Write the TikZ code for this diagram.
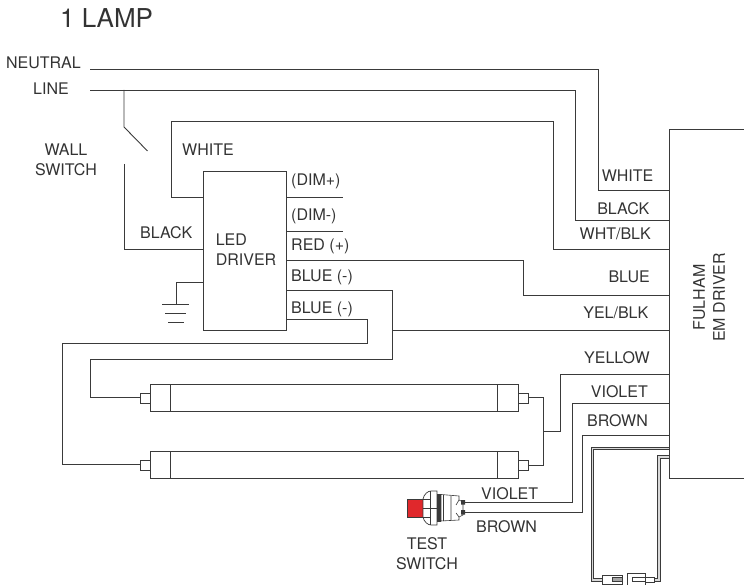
\documentclass[tikz,border=0pt]{standalone}
\usepackage{fontspec}
\setmainfont{TeX Gyre Heros}
\definecolor{wire}{HTML}{3A3A3A}
\definecolor{txt}{HTML}{333333}
\definecolor{lampred}{HTML}{E0282C}
\tikzset{
  wireline/.style={draw=wire,line width=0.9pt,line join=miter},
  twin/.style={draw=wire,line width=0.7pt,double=white!85!black,double distance=1.8pt},
  lbl/.style={inner sep=0pt,text=txt,font=\fontsize{16}{20}\selectfont,align=center},
  lbll/.style={lbl,anchor=base west},
  lblr/.style={lbl,anchor=base east},
  pt/.style={inner sep=0pt,minimum size=0pt,outer sep=0pt}
}
\begin{document}
\begin{tikzpicture}[x=1pt,y=-1pt]
\useasboundingbox (0,0) rectangle (744,585);
\node[lbl,anchor=base west,font=\fontsize{26}{30}\selectfont] (title) at (60,28) {1 LAMP};
% boxes
\node[wireline,pt,rectangle,minimum width=83pt,minimum height=159pt,anchor=north west] (led) at (203,171) {};
\node[lbl,anchor=center,align=left] (ledt) at (246,249.5) {LED\\DRIVER};
\node[pt] (neutralend) at (90,69) {};
\node[pt] (lineend) at (90,90) {};
\coordinate (emtop) at (669,129);
\coordinate (embot) at (669,478);
\draw[wireline] (744,129) -- (emtop) -- (embot) -- (744,478);
\node[lbl,anchor=center,rotate=90] (emt) at (709,297.5) {FULHAM\\EM DRIVER};
% labels
\node[lblr] (lneutral) at (81,69) {NEUTRAL};
\node[lblr] (lline) at (69,95) {LINE};
\node[lbl,anchor=center] (lwall) at (66,160) {WALL\\SWITCH};
\node[lbll] (lwhite) at (182,156) {WHITE};
\node[lbll] (lblack) at (140,239) {BLACK};
\node[lbll] (ldimp) at (291,186) {(DIM+)};
\node[lbll] (ldimm) at (291,220.5) {(DIM-)};
\node[lbll] (lred) at (291,251) {RED (+)};
\node[lbll] (lb1) at (291,282) {BLUE (-)};
\node[lbll] (lb2) at (291,313) {BLUE (-)};
\node[lblr] (r1) at (653.5,182) {WHITE};
\node[lblr] (r2) at (649.5,215) {BLACK};
\node[lblr] (r3) at (651,240) {WHT/BLK};
\node[lblr] (r4) at (650,283) {BLUE};
\node[lblr] (r5) at (648.5,319) {YEL/BLK};
\node[lblr] (r6) at (650,363) {YELLOW};
\node[lblr] (r7) at (648,397) {VIOLET};
\node[lblr] (r8) at (648,426) {BROWN};
\node[lbll] (v) at (481,499) {VIOLET};
\node[lbll] (b) at (476,532) {BROWN};
\node[lbl,anchor=center] (ts) at (427,553.5) {TEST\\SWITCH};
% mains wires
\draw[wireline] (neutralend) -- (598,69) -- (598,190) -- (669,190);
\draw[wireline] (lineend) -- (575,90) -- (575,220) -- (669,220);
\coordinate (swa) at (124,90);
\coordinate (swb) at (124,127);
\coordinate (swc) at (147.5,151);
\coordinate (swd) at (124,164);
\draw[wireline] (swa) -- (swb) -- (swc);
\draw[wireline] (swd) -- (124,249) -- (203,249);
\draw[wireline] (203,197) -- (171,197) -- (171,121.5) -- (553,121.5) -- (553,249) -- (669,249);
% ground
\coordinate (gnd) at (176,304);
\draw[wireline] (203,282.5) -- (176,282.5) -- (gnd);
\draw[wireline] (162,304) -- (189,304) (165,313) -- (186,313) (168,322) -- (183.5,322);
% dim
\draw[wireline] (286,197) -- (343,197);
\draw[wireline] (286,231) -- (343,231);
\draw[wireline] (286,260) -- (523,260) -- (523,295) -- (669,295);
% blue
\draw[wireline] (286,290) -- (392,290) -- (392,359.5) -- (90,359.5) -- (90,397.5) -- (140,397.5);
\draw[wireline] (392,330) -- (669,330);
\draw[wireline] (286,319) -- (367,319) -- (367,343.5) -- (62,343.5) -- (62,464.5) -- (140,464.5);
% lamps
\foreach \y/\n in {384/a,451/b}{
  \node[wireline,pt,rectangle,minimum width=368pt,minimum height=27.5pt,anchor=north west] (lamp\n) at (150,\y) {};
  \draw[wireline] (170,\y) -- ++(0,27.5) (497.5,\y) -- ++(0,27.5);
  \draw[wireline] (150,\y+9) rectangle (140,\y+19);
  \draw[wireline] (518,\y+9) rectangle (528,\y+19);
}
\draw[wireline] (528,397) -- (543,397) -- (543,465) -- (528,465);
\draw[wireline] (543,431) -- (560.5,431) -- (560.5,374) -- (669,374);
% test
\draw[wireline] (465,502) -- (572,502) -- (572,403) -- (669,403);
\draw[wireline] (465,512) -- (582,512) -- (582,435) -- (669,435);
% test switch
\fill[lampred] (407,499) rectangle (423,517);
\draw[wire,line width=0.5pt] (407,499) rectangle (423,517);
\draw[wireline,fill=white,line width=0.7pt] (423,499) .. controls (424,494) and (428,491) .. (431,491) -- (437,491) -- (437,525) -- (431,525) .. controls (428,525) and (424,522) .. (423,517) -- cycle;
\draw[wire,line width=0.6pt] (430,491) -- (430,525) (423,499) -- (430,499) (423,508) -- (437,508) (423,517) -- (430,517);
\fill[wire] (437,494) rectangle (440.5,522);
\draw[wire,line width=0.6pt,fill=white] (441,494.5) -- (459,496) -- (459,500) -- (463,502) -- (463,515) -- (459,517) -- (459,520) -- (441,521) -- cycle;
\draw[wire,line width=0.6pt] (443.5,495) -- (443.5,521) (459,500) -- (456,505) (459,517) -- (456,513) (451,496) -- (451,520);
\fill[wire] (461,500) rectangle (465,504.5) (461,510) rectangle (465,514.5);
% twin lead
\draw[twin] (669,448.5) -- (592.5,448.5) -- (592.5,580) -- (602,580);
\draw[twin] (669,457) -- (659,457) -- (659,580) -- (653,580);
\draw[wireline,fill=white,line width=0.7pt] (602,575) rectangle (622,584);
\draw[wireline,fill=gray!70,line width=0.7pt] (612,577.5) rectangle (622,581.5);
\draw[wireline,fill=white,line width=0.7pt] (627,573) rectangle (645,585);
\draw[wireline,fill=white,line width=0.7pt] (632,577.5) rectangle (645,581.5);
\draw[wireline,fill=white,line width=0.7pt] (645,577) rectangle (654,582);
\end{tikzpicture}
\end{document}
